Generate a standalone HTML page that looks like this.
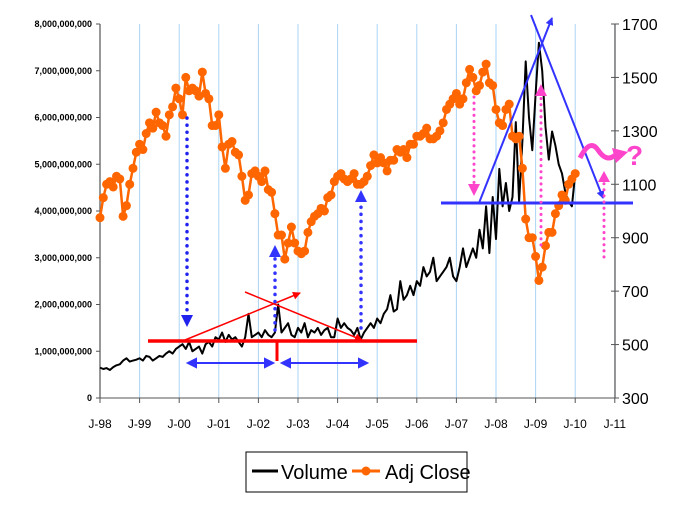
<!DOCTYPE html>
<html><head><meta charset="utf-8"><style>
body{margin:0;background:#fff;}
svg{display:block;font-family:"Liberation Sans",sans-serif;}
</style></head><body>
<svg id="chart" width="696" height="507" viewBox="0 0 696 507">
<defs>
<marker id="ar" markerWidth="8" markerHeight="8" refX="7" refY="4" orient="auto" markerUnits="userSpaceOnUse"><path d="M0,0 L8,4 L0,8 Z" fill="#f00"/></marker>
<marker id="ab" markerWidth="8" markerHeight="8" refX="7" refY="4" orient="auto" markerUnits="userSpaceOnUse"><path d="M0,0 L8,4 L0,8 Z" fill="#33f"/></marker>
</defs>
<g id="grid"></g>
<g id="axes"></g>
<g id="series"></g>
<g id="annot">
<line x1="148" y1="341" x2="417" y2="341" stroke="#f00" stroke-width="3.5"/>
<line x1="277" y1="341" x2="277" y2="361" stroke="#f00" stroke-width="3"/>
<line x1="185" y1="340" x2="300" y2="293" stroke="#f00" stroke-width="1.5" marker-end="url(#ar)"/>
<line x1="245" y1="292" x2="362" y2="340" stroke="#f00" stroke-width="1.5" marker-end="url(#ar)"/>
<g fill="#22e">
<line x1="187" y1="118" x2="187" y2="318" stroke="#22e" stroke-width="3.5" stroke-dasharray="0.1 7" stroke-linecap="round"/>
<path d="M181,315 L193,315 L187,327 Z"/>
<line x1="275" y1="330" x2="275" y2="258" stroke="#33f" stroke-width="3.5" stroke-dasharray="0.1 7" stroke-linecap="round"/>
<path d="M269,257 L281,257 L275,245 Z" fill="#33f"/>
<line x1="361" y1="328" x2="361" y2="202" stroke="#33f" stroke-width="3.5" stroke-dasharray="0.1 7" stroke-linecap="round"/>
<path d="M355,202 L367,202 L361,190 Z" fill="#33f"/>
</g>
<g stroke="#33f" stroke-width="2" fill="#33f">
<line x1="190" y1="363" x2="271" y2="363"/><path d="M188,363 L196,359 L196,367 Z"/><path d="M273,363 L265,359 L265,367 Z"/>
<line x1="284" y1="363" x2="365" y2="363"/><path d="M282,363 L290,359 L290,367 Z"/><path d="M367,363 L359,359 L359,367 Z"/>
</g>
<line x1="441" y1="203" x2="633" y2="203" stroke="#33f" stroke-width="3"/>
<line x1="479" y1="203" x2="552" y2="18" stroke="#33f" stroke-width="2" marker-end="url(#ab)"/>
<line x1="531" y1="15" x2="603" y2="198" stroke="#33f" stroke-width="2" marker-end="url(#ab)"/>
<g fill="#f4c">
<line x1="474" y1="97" x2="474" y2="185" stroke="#f4c" stroke-width="3" stroke-dasharray="0.1 6" stroke-linecap="round"/>
<path d="M468,184 L480,184 L474,196 Z"/>
<line x1="541" y1="245" x2="541" y2="96" stroke="#f4c" stroke-width="3" stroke-dasharray="0.1 6" stroke-linecap="round"/>
<path d="M535,96 L547,96 L541,84 Z"/>
<line x1="604" y1="257" x2="604" y2="182" stroke="#f4c" stroke-width="3" stroke-dasharray="0.1 6" stroke-linecap="round"/>
<path d="M598,182 L610,182 L604,171 Z"/>
</g>
<path d="M580,158 Q590,138 598,150 Q606,162 614,156 L622,155" fill="none" stroke="#f4c" stroke-width="5"/>
<path d="M612,148 L628,152 L616,163 Z" fill="#f4c"/>
<text x="626" y="165" font-size="28" font-weight="bold" fill="#f4c">?</text>
</g>
<g>
<rect x="246" y="452" width="221" height="40" fill="#fff" stroke="#000" stroke-width="1"/>
<line x1="252" y1="471" x2="278" y2="471" stroke="#000" stroke-width="3"/>
<text x="281" y="479" font-size="20">Volume</text>
<line x1="352" y1="471" x2="380" y2="471" stroke="#f60" stroke-width="3"/>
<circle cx="366" cy="471" r="4.5" fill="#f60"/>
<text x="385" y="479" font-size="20">Adj Close</text>
</g>
</svg>
<script>
const volLabels=["0","1,000,000,000","2,000,000,000","3,000,000,000","4,000,000,000","5,000,000,000","6,000,000,000","7,000,000,000","8,000,000,000"];
const priceTicks=[300,500,700,900,1100,1300,1500,1700];
const yearLabels=["J-98","J-99","J-00","J-01","J-02","J-03","J-04","J-05","J-06","J-07","J-08","J-09","J-10","J-11"];
const adjClose=[975,1050,1100,1110,1090,1130,1120,980,1020,1100,1160,1220,
1250,1230,1290,1330,1310,1370,1330,1320,1280,1360,1390,1460,
1420,1360,1500,1450,1460,1450,1430,1520,1440,1420,1320,1320,
1360,1240,1160,1250,1260,1220,1210,1130,1040,1060,1140,1150,
1130,1110,1150,1080,1070,990,910,910,820,880,940,880,
850,840,850,920,960,980,990,1010,1000,1050,1060,1110,
1130,1140,1120,1110,1120,1140,1100,1100,1110,1130,1170,1210,
1180,1200,1180,1150,1190,1190,1230,1220,1230,1200,1250,1250,
1280,1280,1290,1310,1270,1270,1280,1300,1330,1380,1400,1420,
1440,1400,1420,1480,1530,1500,1450,1470,1520,1550,1480,1470,
1380,1330,1320,1380,1400,1280,1270,1280,1160,970,900,900,
830,740,790,870,920,920,990,1020,1060,1040,1100,1120,1140];
const volumeBn=[.65,.62,.64,.60,.66,.70,.72,.80,.85,.78,.80,.82,
.85,.80,.90,.88,.80,.85,.90,.88,.95,1.0,.95,1.05,
1.1,1.15,1.05,1.2,1.0,1.05,1.1,.95,1.15,1.2,1.1,1.3,
1.25,1.4,1.2,1.35,1.25,1.3,1.2,1.1,1.3,1.8,1.3,1.35,
1.4,1.3,1.45,1.35,1.3,1.4,2.0,1.4,1.5,1.6,1.35,1.3,
1.5,1.4,1.6,1.3,1.45,1.4,1.5,1.35,1.45,1.5,1.3,1.3,
1.7,1.5,1.6,1.5,1.45,1.35,1.5,1.25,1.4,1.5,1.6,1.5,
1.7,1.6,1.8,1.9,2.2,1.85,1.9,2.5,2.1,2.2,2.4,2.2,
2.5,2.4,2.8,2.6,2.7,3.0,2.5,2.6,2.7,2.8,3.0,2.6,
2.5,2.8,3.2,2.8,3.0,3.2,3.0,3.6,3.2,4.1,3.1,4.3,
3.4,4.9,4.1,4.6,4.0,4.3,5.9,4.2,5.5,7.2,6.0,5.3,
6.5,7.6,7.0,5.8,5.1,5.7,5.4,5.0,4.8,4.4,4.2,4.1,4.8];
const NS="http://www.w3.org/2000/svg";
const X0=100,YW=39.6,Y0=398,YT=24;
const xMonth=i=>X0+i*YW/12;
const yVol=v=>Y0-v/8*(Y0-YT);
const yPrice=p=>Y0-(p-300)/1400*(Y0-YT);
function mk(tag,attrs,parent){const e=document.createElementNS(NS,tag);for(const k in attrs)e.setAttribute(k,attrs[k]);parent.appendChild(e);return e;}
const grid=document.getElementById('grid'),axes=document.getElementById('axes'),series=document.getElementById('series');
yearLabels.forEach((l,i)=>{
 const x=X0+i*YW;
 if(i>0){const g=mk('line',{x1:x,y1:YT,x2:x,y2:Y0,stroke:'#aad4f5','stroke-width':1},grid);
 
 }
 mk('line',{x1:x,y1:Y0,x2:x,y2:Y0+5,stroke:'#555'},axes);
 const t=mk('text',{x:x,y:428,'font-size':12,'text-anchor':'middle'},axes);t.textContent=l;
 
 
});
mk('line',{x1:X0,y1:YT,x2:X0,y2:Y0,stroke:'#777','stroke-width':1.5},axes);
mk('line',{x1:X0,y1:Y0,x2:616,y2:Y0,stroke:'#555'},axes);
mk('line',{x1:615,y1:YT,x2:615,y2:Y0,stroke:'#777','stroke-width':1.5},axes);
volLabels.forEach((l,i)=>{
 const y=yVol(i);
 mk('line',{x1:X0-4,y1:y,x2:X0,y2:y,stroke:'#555'},axes);
 const t=mk('text',{x:92,y:y+3,'font-size':9,'font-weight':'bold','text-anchor':'end'},axes);t.textContent=l;
 
 
});
priceTicks.forEach(p=>{
 const y=yPrice(p);
 mk('line',{x1:611,y1:y,x2:619,y2:y,stroke:'#555'},axes);
 const t=mk('text',{x:622,y:y+6,'font-size':16},axes);t.textContent=p;
 
 
});
const vl=mk('polyline',{points:volumeBn.map((v,i)=>xMonth(i)+','+yVol(v)).join(' '),fill:'none',stroke:'#000','stroke-width':2,'stroke-linejoin':'round'},series);


const pl=mk('polyline',{points:adjClose.map((v,i)=>xMonth(i)+','+yPrice(v)).join(' '),fill:'none',stroke:'#f60','stroke-width':2.5},series);


adjClose.forEach((v,i)=>{
 const c=mk('circle',{cx:xMonth(i),cy:yPrice(v),r:4.5,fill:'#f60'},series);
 
 
});
</script>
</body></html>
